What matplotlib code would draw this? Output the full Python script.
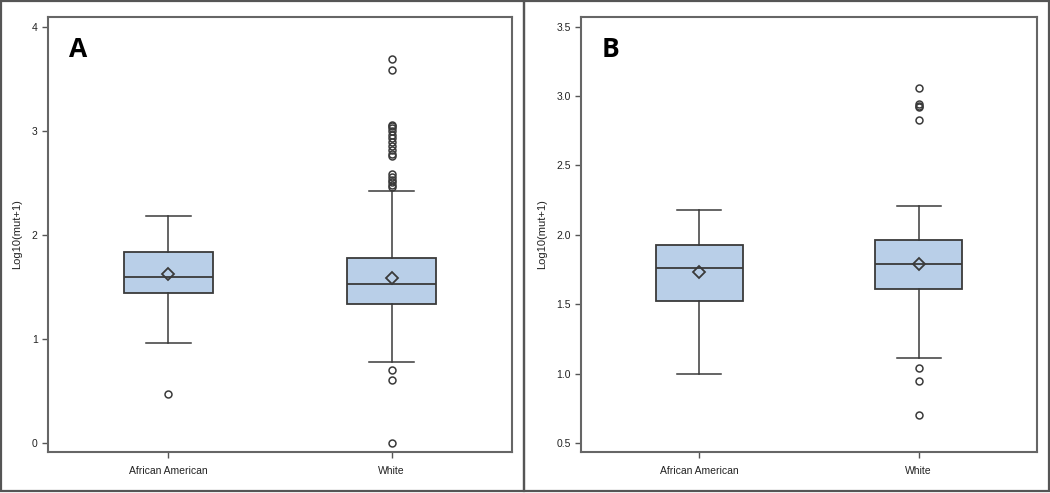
import matplotlib
matplotlib.use("Agg")
import matplotlib.pyplot as plt
from matplotlib.patches import Rectangle

# Groups on the x axis
groups = ['African American', 'White']

# Panel A summary stats, order: AA, White
a_q1 = [1.44, 1.34]
a_med = [1.60, 1.53]
a_q3 = [1.84, 1.78]
a_mean = [1.62, 1.59]
a_whislo = [0.96, 0.78]
a_whishi = [2.18, 2.42]
a_fliers_aa = [0.47]
a_fliers_white = [0.0, 0.60, 0.70,
                  2.46, 2.48, 2.51, 2.53, 2.56, 2.59,
                  2.76, 2.78, 2.82, 2.86, 2.90, 2.93, 2.96, 3.00, 3.03, 3.05, 3.06,
                  3.59, 3.70]

# Panel B summary stats
b_q1 = [1.52, 1.61]
b_med = [1.76, 1.79]
b_q3 = [1.93, 1.96]
b_mean = [1.73, 1.79]
b_whislo = [1.00, 1.11]
b_whishi = [2.18, 2.21]
b_fliers_aa = []
b_fliers_white = [0.70, 0.95, 1.04, 2.83, 2.92, 2.93, 2.94, 3.06]

box_fill = '#B9CFE8'
edge = '#3a3a3a'
font = ['Liberation Sans Narrow', 'Liberation Sans', 'DejaVu Sans']


def build_stats(q1, med, q3, mean, lo, hi, fliers):
    stats = []
    for i in range(len(groups)):
        stats.append({'label': groups[i], 'q1': q1[i], 'med': med[i], 'q3': q3[i],
                      'mean': mean[i], 'whislo': lo[i], 'whishi': hi[i],
                      'fliers': fliers[i]})
    return stats


def draw_panel(ax, stats, ylim, yticks, ylabels, letter, label_x):
    ax.bxp(stats, positions=[1, 2], widths=0.4, showmeans=True, patch_artist=True,
           boxprops=dict(facecolor=box_fill, edgecolor=edge, linewidth=1.3),
           medianprops=dict(color=edge, linewidth=1.3),
           whiskerprops=dict(color=edge, linewidth=1.1),
           capprops=dict(color=edge, linewidth=1.1),
           capwidths=0.2,
           flierprops=dict(marker='o', markerfacecolor='none', markeredgecolor=edge,
                           markersize=5, markeredgewidth=1.1),
           meanprops=dict(marker='D', markerfacecolor='none', markeredgecolor=edge,
                          markersize=6, markeredgewidth=1.3))
    ax.set_xlim(0.46, 2.54)
    ax.set_ylim(*ylim)
    ax.set_yticks(yticks)
    ax.set_yticklabels(ylabels, family=font, fontsize=7.5)
    ax.set_xticks([1, 2])
    ax.set_xticklabels(groups, family=font, fontsize=7.5)
    ax.tick_params(length=4, width=1, color='#555555', labelcolor='#222222')
    ax.tick_params(axis='x', pad=6)
    ax.set_ylabel('Log10(mut+1)', family=font, fontsize=8, color='#222222')
    ax.yaxis.set_label_coords(label_x, 0.5)
    for s in ax.spines.values():
        s.set_color('#666666')
        s.set_linewidth(1.5)
    ax.text(0.065, 0.925, letter, transform=ax.transAxes, fontsize=19,
            fontweight='bold', family='Open Sans', ha='center', va='center')


fig = plt.figure(figsize=(10.5, 4.93), dpi=100)

# Outer panel frames
fig.patches.append(Rectangle((1 / 1050, 2 / 493), 523 / 1050, 490 / 493, transform=fig.transFigure,
                             fill=False, edgecolor='#555555', linewidth=1.6))
fig.patches.append(Rectangle((524 / 1050, 2 / 493), 525 / 1050, 490 / 493, transform=fig.transFigure,
                             fill=False, edgecolor='#555555', linewidth=1.6))

ax_a = fig.add_axes([48 / 1050, 41 / 493, 464 / 1050, 435 / 493])
ax_b = fig.add_axes([581 / 1050, 41 / 493, 456 / 1050, 435 / 493])

draw_panel(ax_a, build_stats(a_q1, a_med, a_q3, a_mean, a_whislo, a_whishi,
                             [a_fliers_aa, a_fliers_white]),
           (-0.09, 4.1), [0, 1, 2, 3, 4], ['0', '1', '2', '3', '4'], 'A', -0.056)
draw_panel(ax_b, build_stats(b_q1, b_med, b_q3, b_mean, b_whislo, b_whishi,
                             [b_fliers_aa, b_fliers_white]),
           (0.435, 3.57), [0.5, 1.0, 1.5, 2.0, 2.5, 3.0, 3.5],
           ['0.5', '1.0', '1.5', '2.0', '2.5', '3.0', '3.5'], 'B', -0.075)

fig.savefig('out.png', dpi=100)
